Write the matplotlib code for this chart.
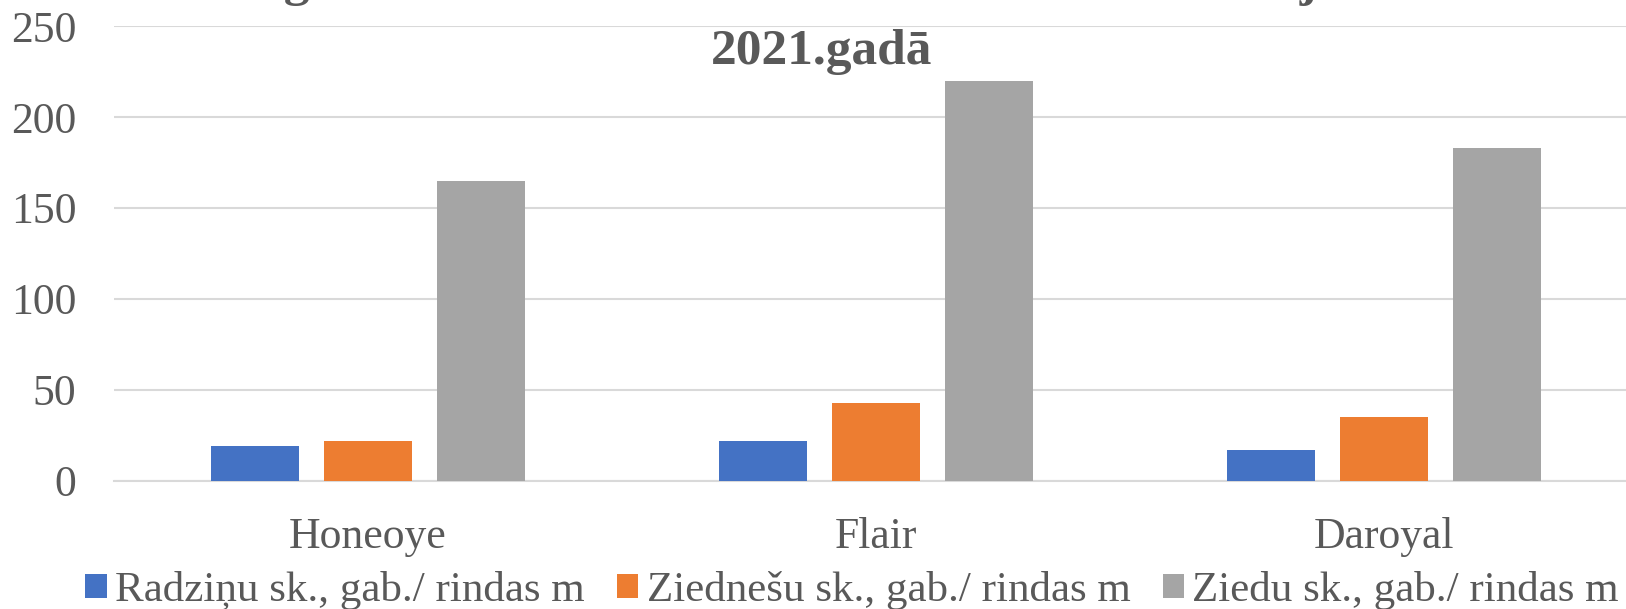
import matplotlib.pyplot as plt
import numpy as np

varieties = ['Honeoye', 'Flair', 'Daroyal']
series_names = ['Radziņu sk., gab./ rindas m',
                'Ziednešu sk., gab./ rindas m',
                'Ziedu sk., gab./ rindas m']
radzini = [19, 22, 17]
ziednesi = [22, 43, 35]
ziedi = [165, 220, 183]
colors = ['#4472C4', '#ED7D31', '#A5A5A5']
title_line1 = 'Augu attīstības elementi zemenēm un to salīdzinājums'
title_line2 = '2021.gadā'

plt.rcParams['font.family'] = ['Liberation Serif', 'DejaVu Serif']
txt = '#595959'

fig = plt.figure(figsize=(16.26, 6.09), dpi=100)
ax = fig.add_axes([0.0701, 0.2102, 0.9373, 0.7471])

x = np.arange(len(varieties))
step = 0.222
width = 0.173
for i, (vals, name) in enumerate(zip([radzini, ziednesi, ziedi], series_names)):
    ax.bar(x + (i - 1) * step, vals, width, color=colors[i], label=name, zorder=3)

ax.set_xlim(-0.5, 2.5)
ax.set_ylim(0, 250)
ax.set_yticks(range(0, 251, 50))
ax.set_xticks(x)
ax.set_xticklabels(varieties)
ax.yaxis.grid(True, color='#d9d9d9', linewidth=1.5, zorder=0)
for s in ['top', 'right', 'left']:
    ax.spines[s].set_visible(False)
ax.spines['bottom'].set_color('#d9d9d9')
ax.spines['bottom'].set_linewidth(1.5)
ax.tick_params(axis='both', length=0, labelsize=31.5, labelcolor=txt)
ax.tick_params(axis='y', pad=27)
ax.tick_params(axis='x', pad=26)

# first title line is mostly outside the picture, as in the original
fig.text(0.5, 1.008, title_line1, ha='center', va='baseline',
         fontsize=37, fontweight='bold', color=txt)
fig.text(0.505, 0.895, title_line2, ha='center', va='baseline',
         fontsize=37, fontweight='bold', color=txt)

fig.legend(loc='center', bbox_to_anchor=(0.524, 0.03), ncol=3, frameon=False,
           fontsize=31, labelcolor=txt, handlelength=0.5, handleheight=0.5,
           handletextpad=0.19, columnspacing=0.75, borderaxespad=0)

fig.savefig('out.png', dpi=100)
